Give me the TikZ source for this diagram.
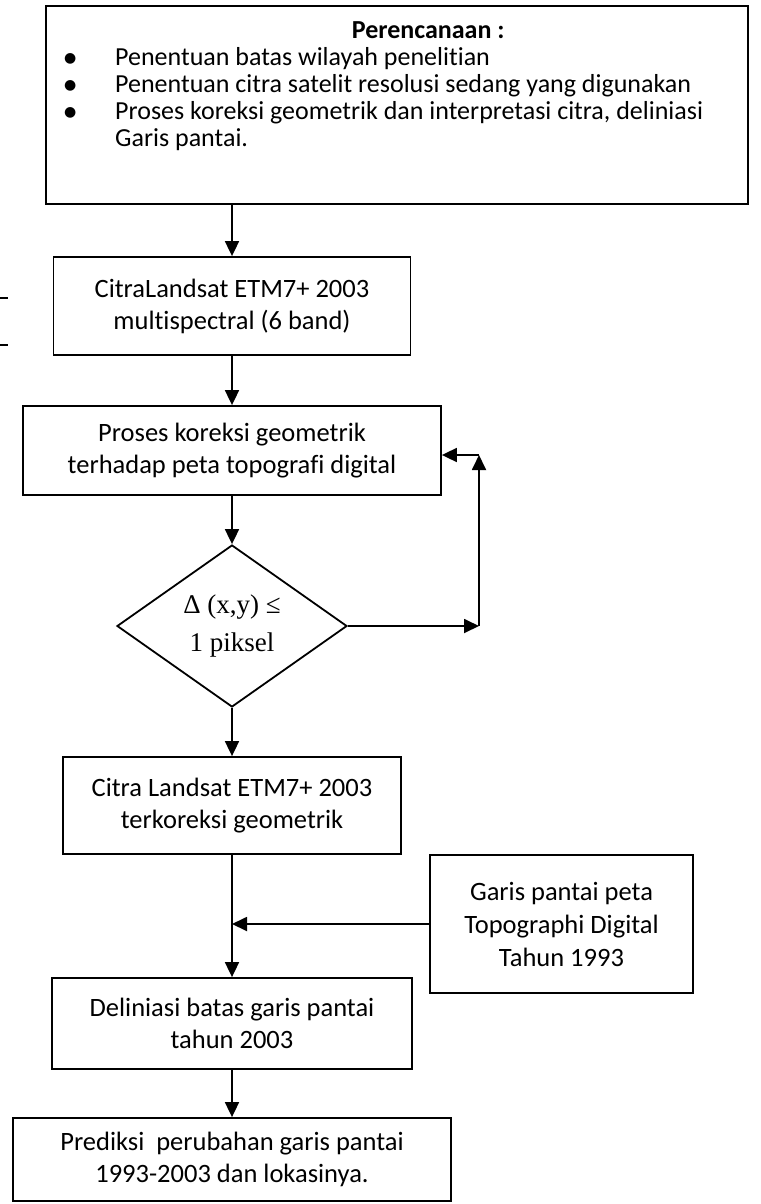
\documentclass[tikz,border=0pt]{standalone}
\usepackage{fontspec}
\setmainfont{Carlito}[Ligatures=NoCommon]
\newfontfamily\seriffont{Liberation Serif}
\newfontfamily\dotfont{DejaVu Sans}
\usetikzlibrary{shapes.geometric,arrows.meta}
\tikzstyle{box}=[draw,rectangle,line width=1.8pt,align=center,inner sep=0pt]
\tikzstyle{decision}=[draw,diamond,line width=1.8pt,aspect=1.42,inner sep=0pt,minimum width=230pt,minimum height=162pt,align=center,font=\fontsize{27}{39}\seriffont]
\tikzstyle{arrow}=[line width=1.8pt,-{Triangle[length=15pt,width=14pt]}]
\newcommand{\blt}{\raisebox{3pt}{\fontsize{14}{14}\dotfont ●}}

\begin{document}
\begin{tikzpicture}[x=1pt,y=-1pt,font=\fontsize{26.5}{32}\selectfont]
\useasboundingbox (0,0) rectangle (760,1204);
\node[box,minimum width=702pt,minimum height=198pt] at (397,105) (plan) {};
\node[anchor=north west,inner sep=0pt,font=\fontsize{26}{27}\selectfont] at (64,19) (plantext) {\begin{tabular}{@{}p{51pt}@{}p{626pt}@{}}
 & \multicolumn{1}{c}{\textbf{Perencanaan :}}\\
\blt & Penentuan batas wilayah penelitian\\
\blt & Penentuan citra satelit resolusi sedang yang digunakan\\
\blt & Proses koreksi geometrik dan interpretasi citra, deliniasi\\
 & Garis pantai.
\end{tabular}};
\node[box,minimum width=357pt,minimum height=98pt] at (232,306) (citra) {CitraLandsat ETM7+ 2003\\multispectral (6 band)};
\node[box,minimum width=418pt,minimum height=89pt] at (232,450.5) (proses) {Proses koreksi geometrik\\terhadap peta topografi digital};
\node[decision] at (232,626) (dec) {Δ (x,y) ≤\\1 piksel};
\node[box,minimum width=338pt,minimum height=97pt] at (232,805.5) (terkor) {Citra Landsat ETM7+ 2003\\terkoreksi geometrik};
\node[box,minimum width=263pt,minimum height=138pt,font=\fontsize{26.5}{33}\selectfont] at (561.5,924) (garis) {Garis pantai peta\\Topographi Digital\\Tahun 1993};
\node[box,minimum width=360pt,minimum height=91pt] at (232,1023.5) (delin) {Deliniasi batas garis pantai\\tahun 2003};
\node[box,minimum width=438pt,minimum height=83pt] at (232,1159.5) (predik) {Prediksi\ \ perubahan garis pantai\\1993-2003 dan lokasinya.};
\coordinate (fbr) at (479,626);
\coordinate (fbt) at (479,455);
\draw[arrow] (citra.north |- plan.south) -- (citra.north);
\draw[arrow] (citra) -- (proses);
\draw[arrow] (proses) -- (dec);
\draw[arrow] (dec.east) -- (fbr);
\draw[arrow] (fbr) -- (fbt);
\draw[arrow] (fbt) -- (fbt -| proses.east);
\draw[arrow] (dec) -- (terkor);
\draw[arrow] (terkor) -- (delin);
\draw[arrow] (garis.west) -- (garis.west -| terkor);
\draw[arrow] (delin) -- (predik);
\draw[line width=1.8pt] (0,298) -- (8,298);
\draw[line width=1.8pt] (0,345) -- (8,345);
\end{tikzpicture}
\end{document}
